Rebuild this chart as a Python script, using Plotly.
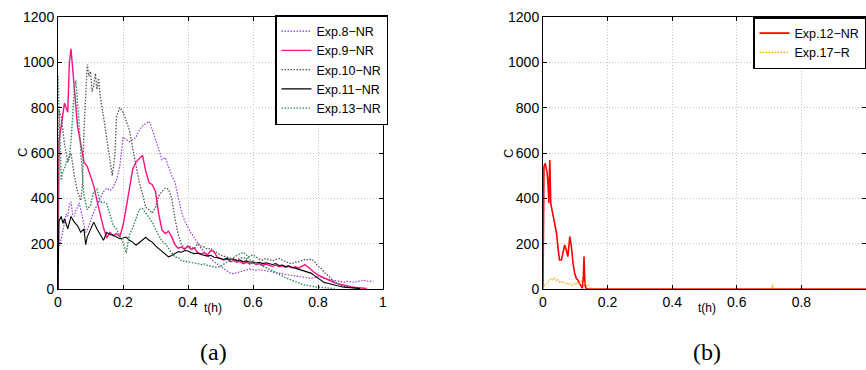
import plotly.graph_objects as go

# ---------------- Panel (a) data ----------------
t8 = [0, 0.005, 0.01, 0.02, 0.025, 0.03, 0.035, 0.04, 0.045, 0.05, 0.055, 0.06, 0.065, 0.07, 0.075, 0.08,
      0.085, 0.09, 0.095, 0.10, 0.11, 0.12, 0.13, 0.14, 0.15, 0.16, 0.17, 0.18, 0.19, 0.20, 0.21, 0.22,
      0.23, 0.24, 0.25, 0.26, 0.27, 0.28, 0.29, 0.30, 0.31, 0.32, 0.33, 0.34, 0.35, 0.36, 0.37, 0.38,
      0.39, 0.40, 0.41, 0.42, 0.43, 0.44, 0.45, 0.46, 0.47, 0.48, 0.49, 0.50, 0.51, 0.52, 0.53, 0.54,
      0.55, 0.56, 0.57, 0.58, 0.59, 0.60, 0.61, 0.62, 0.63, 0.64, 0.65, 0.66, 0.67, 0.68, 0.69, 0.70,
      0.71, 0.72, 0.73, 0.74, 0.75, 0.76, 0.77, 0.78, 0.79, 0.80, 0.81, 0.82, 0.83, 0.84, 0.85, 0.86,
      0.87, 0.88, 0.89, 0.90, 0.91, 0.92, 0.93, 0.94, 0.95, 0.96, 0.97]
c8 = [260, 190, 220, 295, 330, 320, 370, 385, 330, 320, 350, 360, 380, 350, 320, 290,
      250, 260, 280, 300, 340, 370, 400, 430, 445, 435, 450, 480, 540, 670, 660, 650,
      660, 670, 700, 720, 730, 740, 705, 660, 610, 570, 580, 540, 500, 470, 410, 340,
      300, 270, 245, 225, 200, 180, 165, 150, 135, 120, 110, 100, 90, 80, 70, 68,
      72, 76, 80, 85, 88, 86, 82, 85, 84, 80, 78, 74, 72, 70, 66, 65,
      62, 60, 58, 55, 54, 50, 48, 47, 50, 54, 52, 45, 42, 40, 36, 33,
      32, 30, 34, 32, 30, 32, 36, 40, 34, 36, 35]

t9 = [0, 0.003, 0.01, 0.02, 0.03, 0.035, 0.04, 0.045, 0.05, 0.06, 0.07, 0.08, 0.09, 0.10, 0.11, 0.12,
      0.13, 0.14, 0.15, 0.16, 0.17, 0.18, 0.19, 0.20, 0.21, 0.22, 0.23, 0.24, 0.25, 0.26, 0.27, 0.28,
      0.29, 0.30, 0.31, 0.32, 0.33, 0.34, 0.35, 0.36, 0.37, 0.38, 0.39, 0.40, 0.41, 0.42, 0.43, 0.44,
      0.45, 0.46, 0.47, 0.48, 0.49, 0.50, 0.51, 0.52, 0.53, 0.54, 0.55, 0.56, 0.57, 0.58, 0.59, 0.60,
      0.61, 0.62, 0.63, 0.64, 0.65, 0.66, 0.67, 0.68, 0.69, 0.70, 0.71, 0.72, 0.73, 0.74, 0.75, 0.76,
      0.77, 0.78, 0.79, 0.80, 0.81, 0.82, 0.83, 0.84, 0.85, 0.86, 0.87, 0.88, 0.89, 0.90, 0.91, 0.92,
      0.93, 0.94, 0.95]
c9 = [0, 650, 720, 820, 780, 1000, 1060, 980, 900, 720, 640, 560, 540, 500, 455, 390,
      330, 270, 225, 250, 235, 245, 230, 280, 360, 450, 530, 560, 575, 590, 520, 470,
      460, 430, 330, 260, 245, 255, 230, 195, 180, 185, 175, 190, 175, 180, 160, 155,
      160, 150, 170, 165, 140, 135, 128, 132, 120, 125, 118, 122, 112, 118, 110, 115,
      108, 112, 104, 110, 106, 100, 105, 98, 102, 96, 100, 94, 98, 92, 100, 108,
      96, 82, 72, 62, 55, 48, 40, 33, 28, 24, 20, 16, 13, 10, 8, 6,
      4, 3, 2]

t10 = [0, 0.003, 0.01, 0.02, 0.03, 0.04, 0.05, 0.06, 0.07, 0.075, 0.08, 0.085, 0.09, 0.095, 0.10, 0.105,
       0.11, 0.115, 0.12, 0.125, 0.13, 0.14, 0.15, 0.16, 0.167, 0.175, 0.18, 0.19, 0.20, 0.21, 0.22, 0.23,
       0.24, 0.25, 0.26, 0.27, 0.28, 0.29, 0.30, 0.31, 0.32, 0.33, 0.34, 0.35, 0.36, 0.37, 0.38, 0.39,
       0.40, 0.41, 0.42, 0.43, 0.44, 0.45, 0.46, 0.47, 0.48, 0.49, 0.50, 0.51, 0.52, 0.53, 0.54, 0.55,
       0.56, 0.57, 0.58, 0.59, 0.60, 0.61, 0.62, 0.63, 0.64, 0.65, 0.66, 0.67, 0.68, 0.69, 0.70, 0.71,
       0.72, 0.73, 0.74, 0.75, 0.76, 0.77, 0.78, 0.79, 0.80, 0.81, 0.82, 0.83, 0.84, 0.85, 0.86, 0.87,
       0.88, 0.89, 0.90, 0.91, 0.92]
c10 = [0, 790, 760, 640, 560, 600, 500, 430, 390, 450, 700, 880, 990, 940, 960, 870,
       900, 950, 880, 930, 850, 760, 660, 560, 500, 590, 760, 800, 780, 740, 700, 620,
       550, 470, 420, 360, 350, 335, 360, 410, 430, 445, 440, 400, 310, 240, 195, 180,
       190, 185, 178, 200, 190, 185, 175, 180, 165, 160, 150, 145, 140, 135, 130, 128,
       135, 140, 132, 145, 150, 140, 132, 128, 135, 130, 125, 130, 135, 128, 120, 115,
       112, 118, 120, 125, 130, 128, 132, 120, 100, 90, 72, 60, 45, 32, 24, 16,
       12, 9, 7, 5, 3]

t11 = [0, 0.003, 0.01, 0.015, 0.02, 0.03, 0.04, 0.05, 0.06, 0.07, 0.08, 0.085, 0.09, 0.10, 0.11, 0.12,
       0.13, 0.14, 0.15, 0.16, 0.17, 0.18, 0.19, 0.20, 0.21, 0.22, 0.23, 0.24, 0.25, 0.26, 0.27, 0.28,
       0.29, 0.30, 0.31, 0.32, 0.33, 0.34, 0.35, 0.36, 0.37, 0.38, 0.39, 0.40, 0.41, 0.42, 0.43, 0.44,
       0.45, 0.46, 0.47, 0.48, 0.49, 0.50, 0.51, 0.52, 0.53, 0.54, 0.55, 0.56, 0.57, 0.58, 0.59, 0.60,
       0.61, 0.62, 0.63, 0.64, 0.65, 0.66, 0.67, 0.68, 0.69, 0.70, 0.71, 0.72, 0.73, 0.74, 0.75, 0.76,
       0.77, 0.78, 0.79, 0.80, 0.81, 0.82, 0.83, 0.84, 0.85, 0.86, 0.87, 0.88, 0.89, 0.90, 0.91, 0.92,
       0.93]
c11 = [0, 300, 320, 290, 310, 265, 320, 295, 280, 250, 265, 195, 230, 265, 295, 265,
       240, 215, 250, 240, 237, 230, 222, 225, 229, 215, 207, 193, 205, 215, 228, 215,
       207, 190, 178, 165, 156, 142, 148, 158, 165, 162, 170, 168, 160, 156, 158, 152,
       150, 145, 149, 140, 138, 134, 130, 136, 128, 132, 125, 128, 120, 124, 118, 120,
       115, 118, 112, 116, 113, 108, 112, 104, 106, 99, 102, 95, 92, 88, 84, 80,
       74, 69, 58, 47, 36, 28, 25, 20, 18, 14, 10, 8, 7, 5, 4, 3,
       2]

t13 = [0, 0.005, 0.01, 0.015, 0.02, 0.025, 0.03, 0.035, 0.04, 0.045, 0.05, 0.055, 0.06, 0.065, 0.07, 0.075,
       0.08, 0.09, 0.10, 0.11, 0.12, 0.13, 0.14, 0.15, 0.16, 0.17, 0.18, 0.19, 0.20, 0.21, 0.215, 0.22,
       0.23, 0.24, 0.25, 0.26, 0.27, 0.28, 0.29, 0.30, 0.31, 0.32, 0.33, 0.34, 0.35, 0.36, 0.37, 0.38,
       0.39, 0.40, 0.41, 0.42, 0.43, 0.44, 0.45, 0.46, 0.47, 0.48, 0.49, 0.50, 0.51, 0.52, 0.53, 0.54,
       0.55, 0.56, 0.57, 0.58, 0.59, 0.60, 0.61, 0.62, 0.63, 0.64, 0.65, 0.66, 0.67, 0.68, 0.69, 0.70,
       0.71, 0.72, 0.73, 0.74, 0.75, 0.76, 0.77, 0.78, 0.79, 0.80, 0.81, 0.82, 0.83, 0.84, 0.85]
c13 = [940, 700, 480, 520, 530, 560, 560, 590, 650, 760, 880, 920, 840, 730, 610, 500,
       410, 350, 370, 430, 440, 380, 385, 375, 325, 280, 265, 235, 205, 160, 200, 240,
       270, 310, 350, 355, 335, 320, 295, 265, 240, 210, 200, 180, 160, 140, 140, 125,
       122, 120, 118, 115, 112, 108, 110, 104, 100, 96, 95, 100, 110, 118, 130, 140,
       148, 155, 162, 150, 128, 122, 115, 108, 104, 95, 88, 80, 72, 64, 58, 50,
       44, 38, 32, 26, 22, 18, 14, 12, 10, 8, 6, 5, 4, 3, 2]

# ---------------- Panel (b) data ----------------
t12 = [0, 0.003, 0.007, 0.010, 0.013, 0.016, 0.018, 0.021, 0.024, 0.028, 0.034, 0.038, 0.042, 0.046,
       0.051, 0.057, 0.062, 0.067, 0.072, 0.077, 0.083, 0.088, 0.093, 0.098, 0.103, 0.108, 0.113,
       0.118, 0.122, 0.125, 0.127, 0.129, 0.131, 0.135, 0.2, 0.4, 0.6, 0.8, 1.0]
c12 = [0, 540, 555, 530, 510, 451, 380, 569, 378, 348, 304, 275, 245, 187,
       128, 128, 157, 194, 172, 143, 231, 187, 113, 69, 47, 40, 25,
       10, 3, 60, 143, 50, 10, 0, 0, 0, 0, 0, 0]

t17 = [0, 0.002, 0.005, 0.01, 0.015, 0.02, 0.025, 0.03, 0.035, 0.04, 0.045, 0.05, 0.055, 0.06, 0.065,
       0.07, 0.075, 0.08, 0.085, 0.09, 0.095, 0.10, 0.105, 0.11, 0.115, 0.12, 0.125, 0.13, 0.135, 0.14,
       0.145, 0.15, 0.3, 0.5, 0.705, 0.709, 0.711, 0.713, 0.717, 0.9, 1.0]
c17 = [0, 10, 18, 22, 30, 35, 45, 40, 50, 38, 45, 30, 35, 25, 30,
       22, 28, 18, 22, 15, 25, 18, 30, 20, 28, 35, 25, 30, 15, 20,
       8, 0, 0, 0, 0, 5, 22, 5, 0, 0, 0]

x_ticks = [0, 0.2, 0.4, 0.6, 0.8, 1]
y_ticks = [0, 200, 400, 600, 800, 1000, 1200]

W, H = 866, 370
FONT = "Liberation Sans, Arial, sans-serif"
DOT = "1.5px,1.5px"

fig = go.Figure()

series_a = [
    ("Exp.8\u2212NR", t8, c8, "#8a2be2", DOT, 1.1),
    ("Exp.9\u2212NR", t9, c9, "#ff1080", "solid", 1.4),
    ("Exp.10\u2212NR", t10, c10, "#555555", DOT, 1.3),
    ("Exp.11\u2212NR", t11, c11, "#000000", "solid", 1.1),
    ("Exp.13\u2212NR", t13, c13, "#2e8b57", DOT, 1.4),
]
for name, tx, cy, col, dash, w in series_a:
    fig.add_trace(go.Scatter(x=tx, y=cy, mode="lines", name=name,
                             line=dict(color=col, dash=dash, width=w),
                             xaxis="x", yaxis="y", legend="legend"))

series_b = [
    ("Exp.12\u2212NR", t12, c12, "#ff0000", "solid", 1.6),
    ("Exp.17\u2212R", t17, c17, "#ffa500", DOT, 1.1),
]
for name, tx, cy, col, dash, w in series_b:
    fig.add_trace(go.Scatter(x=tx, y=cy, mode="lines", name=name,
                             line=dict(color=col, dash=dash, width=w),
                             xaxis="x2", yaxis="y2", legend="legend2"))

axis_common = dict(
    showline=True, linecolor="black", linewidth=1, mirror="allticks",
    ticks="inside", ticklen=4, tickcolor="black", automargin=False,
    showgrid=True, gridcolor="#c4c4c4", griddash="1px,2px", gridwidth=1,
    zeroline=False, tickfont=dict(family=FONT, size=14, color="black"),
)

y_top = 1 - 17 / H
y_bot = 1 - 289 / H

legend_common = dict(
    xanchor="right", yanchor="top", bgcolor="white", bordercolor="black",
    borderwidth=1.5, font=dict(family=FONT, size=12.5, color="black"),
    itemwidth=30, tracegroupgap=0,
)

fig.update_layout(
    width=W, height=H,
    margin=dict(l=0, r=0, t=0, b=0, autoexpand=False),
    paper_bgcolor="white", plot_bgcolor="white",
    font=dict(family=FONT, size=13, color="black"),
    xaxis=dict(domain=[58 / W, 383 / W], range=[0, 1], tickvals=x_ticks,
               ticktext=[str(v) for v in x_ticks], anchor="y", **axis_common),
    yaxis=dict(domain=[y_bot, y_top], range=[0, 1200], tickvals=y_ticks, anchor="x", **axis_common),
    xaxis2=dict(domain=[543 / W, 1.0], range=[0, 1], tickvals=x_ticks,
                ticktext=[str(v) for v in x_ticks], anchor="y2", **axis_common),
    yaxis2=dict(domain=[y_bot, y_top], range=[0, 1200], tickvals=y_ticks, anchor="x2", **axis_common),
    legend=dict(x=388 / W, y=1 - 15 / H, **legend_common),
    legend2=dict(x=1.0, y=1 - 17 / H, **legend_common),
    showlegend=True,
)

serif = "Liberation Serif, Times New Roman, serif"
annotations = [
    dict(text="t(h)", x=213 / W, y=1 - 308 / H, xref="paper", yref="paper",
         showarrow=False, font=dict(family=FONT, size=12), xanchor="center", yanchor="middle"),
    dict(text="t(h)", x=707 / W, y=1 - 308 / H, xref="paper", yref="paper",
         showarrow=False, font=dict(family=FONT, size=12), xanchor="center", yanchor="middle"),
    dict(text="C", x=22 / W, y=1 - 153 / H, xref="paper", yref="paper", textangle=-90,
         showarrow=False, font=dict(family=FONT, size=13), xanchor="center", yanchor="middle"),
    dict(text="C", x=508 / W, y=1 - 153 / H, xref="paper", yref="paper", textangle=-90,
         showarrow=False, font=dict(family=FONT, size=13), xanchor="center", yanchor="middle"),
    dict(text="(a)", x=213 / W, y=1 - 352 / H, xref="paper", yref="paper",
         showarrow=False, font=dict(family=serif, size=24), xanchor="center", yanchor="middle"),
    dict(text="(b)", x=707 / W, y=1 - 352 / H, xref="paper", yref="paper",
         showarrow=False, font=dict(family=serif, size=24), xanchor="center", yanchor="middle"),
]
fig.update_layout(annotations=annotations)

fig.write_html("out.html",
               config={"displayModeBar": False},
               post_script="document.body.style.margin='0px';document.body.style.overflow='hidden';")
